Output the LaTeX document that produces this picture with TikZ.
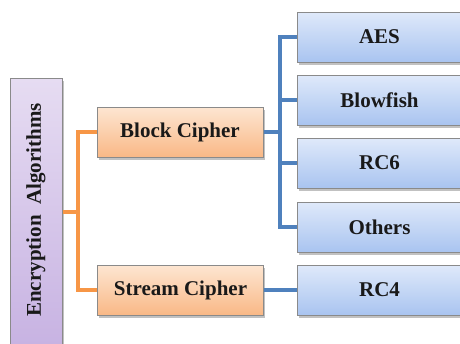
\documentclass[tikz,border=0pt]{standalone}
\usepackage{fontspec}
\setmainfont{Liberation Serif}
\usetikzlibrary{shadows}
\definecolor{lavtop}{HTML}{E6DCF2}
\definecolor{lavbot}{HTML}{C7B2E2}
\definecolor{ortop}{HTML}{FDE6D2}
\definecolor{orbot}{HTML}{F9B886}
\definecolor{bltop}{HTML}{DFE9FA}
\definecolor{blbot}{HTML}{A9C4F0}
\definecolor{boxline}{HTML}{8A8A8A}
\definecolor{orline}{HTML}{F79646}
\definecolor{blline}{HTML}{4F81BD}
\tikzset{
  basebox/.style={rectangle, draw=boxline, line width=1pt, inner sep=0pt,
    font=\fontsize{21}{24}\selectfont\bfseries, text=black!90,
    drop shadow={shadow xshift=1.5pt, shadow yshift=-2.5pt, opacity=0.4, fill=black!60}},
  lavbox/.style={basebox, top color=lavtop, bottom color=lavbot},
  orbox/.style={basebox, top color=ortop, bottom color=orbot, minimum width=166pt, minimum height=50pt},
  blbox/.style={basebox, top color=bltop, bottom color=blbot, minimum width=165pt, minimum height=50pt},
  oconn/.style={draw=orline, line width=3.6pt},
  bconn/.style={draw=blline, line width=3.6pt}
}
\begin{document}
\begin{tikzpicture}[x=1pt,y=-1pt]
\useasboundingbox (0,0) rectangle (460,343);
\clip (0,0) rectangle (460,343);
\fill[white] (0,0) rectangle (460,343);
% left box
\node[lavbox, minimum width=52pt, minimum height=272pt] (enc) at (36,214) {};
\node[font=\fontsize{21}{24}\selectfont\bfseries, text=black!90, rotate=90] (enctext) at (36,210) {Encryption\ \ Algorithms};
% middle boxes
\node[orbox] (bc) at (180,132) {Block Cipher};
\node[orbox] (sc) at (180.5,290) {Stream Cipher};
% right boxes
\node[blbox] (aes) at (379.5,37) {AES};
\node[blbox] (bf) at (379.5,100) {Blowfish};
\node[blbox] (rc6) at (379.5,163) {RC6};
\node[blbox] (oth) at (379.5,227) {Others};
\node[blbox] (rc4) at (379.5,290) {RC4};
% connectors
\coordinate (j1) at (78,212);
\coordinate (j2) at (280,132);
\draw[oconn] (enc.east |- j1) -- (j1);
\draw[oconn] (bc.west) -- (bc.west -| j1) -- (sc.west -| j1) -- (sc.west);
\draw[bconn] (bc.east) -- (j2);
\draw[bconn] (aes.west) -- (aes.west -| j2) -- (oth.west -| j2) -- (oth.west);
\draw[bconn] (bf.west -| j2) -- (bf.west);
\draw[bconn] (rc6.west -| j2) -- (rc6.west);
\draw[bconn] (sc.east) -- (rc4.west);
\end{tikzpicture}
\end{document}
